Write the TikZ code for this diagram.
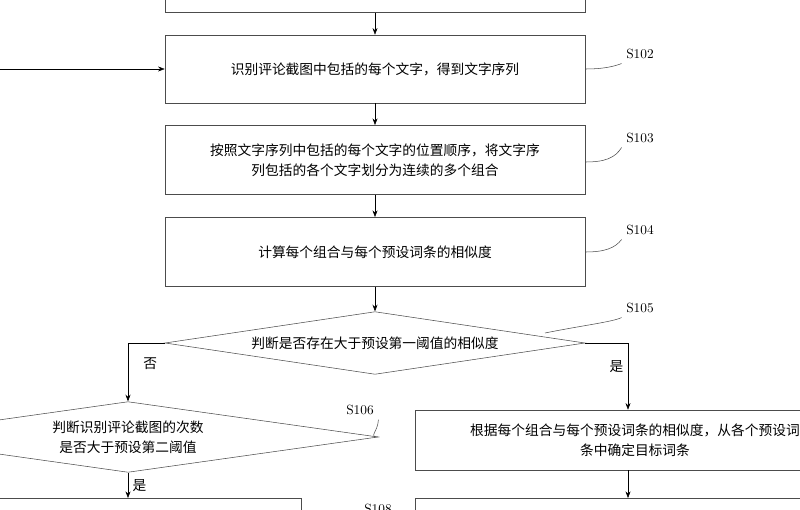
\documentclass[tikz,border=0pt]{standalone}
\usepackage{fontspec}
\newfontfamily\cjk{Noto Sans CJK SC}
\usetikzlibrary{arrows.meta, shapes.geometric}
\newcommand{\cjkfont}{\cjk\fontsize{10.3}{15}\selectfont}
\tikzstyle{stepbox} = [draw=black!70, fill=white, rectangle, align=center, font=\cjkfont]
\tikzstyle{decision} = [draw=black!70, fill=white, diamond, aspect=6.5, inner sep=0pt, align=center, font=\cjkfont]
\tikzstyle{steplabel} = [font=\normalsize]

\begin{document}
\begin{tikzpicture}[x=0.75pt, y=-0.75pt, >={Stealth[length=5pt]}]
      \useasboundingbox (0, 0) rectangle (800, 510);
      \node[stepbox, minimum width=315pt, minimum height=40pt] (s101) at (375, -14) {};
      \node[stepbox, minimum width=315pt, minimum height=51pt] (s102) at (375, 69) {识别评论截图中包括的每个文字，得到文字序列};
      \node[stepbox, minimum width=315pt, minimum height=52pt] (s103) at (375, 160) {按照文字序列中包括的每个文字的位置顺序，将文字序\\列包括的各个文字划分为连续的多个组合};
      \node[stepbox, minimum width=315pt, minimum height=52pt] (s104) at (375, 252) {计算每个组合与每个预设词条的相似度};
      \node[decision, minimum width=315pt, minimum height=47pt] (s105) at (375, 343) {判断是否存在大于预设第一阈值的相似度};
      \node[decision, minimum width=375pt, minimum height=53pt] (s106) at (128, 437) {判断识别评论截图的次数\\是否大于预设第二阈值};
      \node[stepbox, minimum width=330pt, minimum height=45pt, text width=300pt] (s107) at (635, 440) {根据每个组合与每个预设词条的相似度，从各个预设词\\条中确定目标词条};
      \node[stepbox, minimum width=260pt, minimum height=40pt] (s108) at (128, 525) {};
      \node[stepbox, minimum width=330pt, minimum height=40pt] (s109) at (635, 525) {};
      \coordinate (in) at (0, 69);
      \coordinate (no) at (128, 343);
      \coordinate (yes) at (628, 343);
      \node[steplabel] (l102) at (640, 54) {S102};
      \node[steplabel] (l103) at (640, 138) {S103};
      \node[steplabel] (l104) at (640, 230) {S104};
      \node[steplabel] (l105) at (640, 308) {S105};
      \node[steplabel] (l106) at (360, 410) {S106};
      \node[steplabel] (l108) at (378, 509) {S108};
      \draw[->] (s101) -- (s102);
      \draw[->] (in) -- (s102);
      \draw[->] (s102) -- (s103);
      \draw[->] (s103) -- (s104);
      \draw[->] (s104) -- (s105);
      \draw[->] (s105.west) -- (no) -- node[right, font=\cjkfont, pos=0.35, xshift=8pt] {否} (s106.north);
      \draw[->] (s105.east) -- (yes) -- node[left, font=\cjkfont, pos=0.35] {是} (s107.north -| yes);
      \draw[->] (s106.south) -- node[right, font=\cjkfont] {是} (s108.north);
      \draw[->] (s107.south -| yes) -- (s109.north -| yes);
      % leaders to the step labels
      \draw[black!70] (s102.east) .. controls (605, 69) and (615, 66) .. (l102.south west);
      \draw[black!70] (s103.east |- 0, 162) .. controls (605, 162) and (615, 158) .. (l103.south west);
      \draw[black!70] (s104.east |- 0, 252) .. controls (605, 252) and (615, 248) .. (l104.south west);
      \draw[black!70] (545, 333) .. controls (585, 325) and (612, 322) .. (l105.south west);
      \draw[black!70] (s106.east) .. controls (368, 437) and (378, 432) .. (l106.south east);
    \end{tikzpicture}
\end{document}
